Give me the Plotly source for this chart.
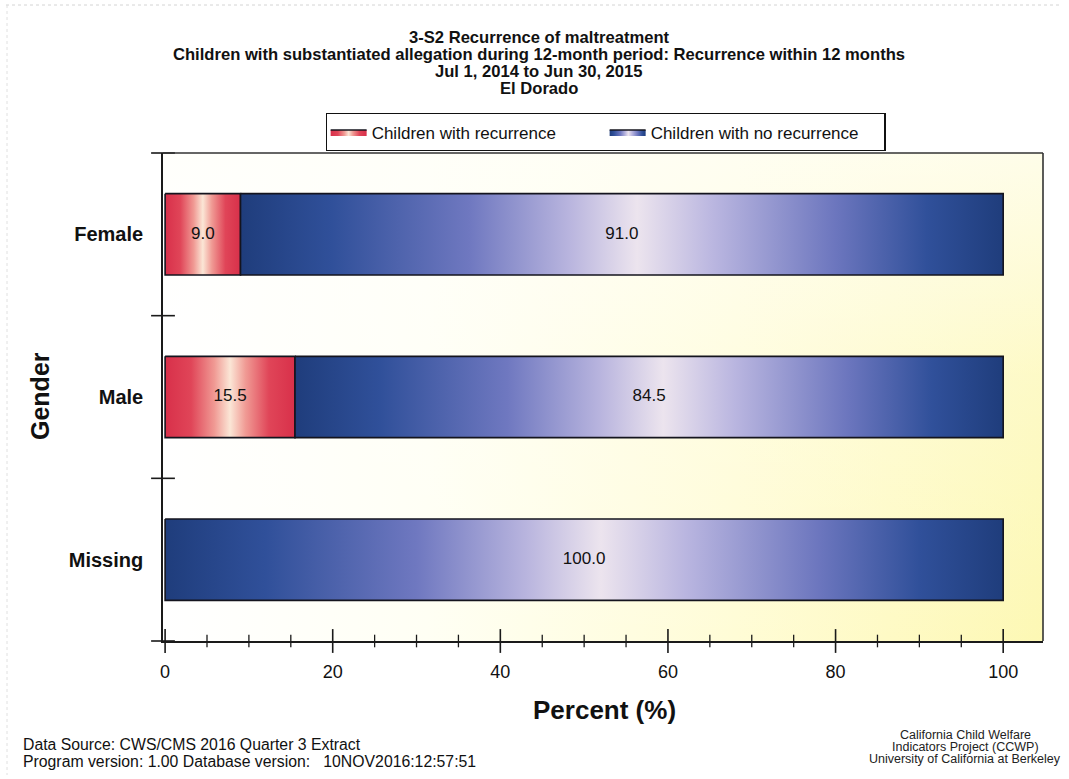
import plotly.graph_objects as go

# ---- data -------------------------------------------------------------
categories = ["Female", "Male", "Missing"]
recurrence_pct = [9.0, 15.5, 0.0]
no_recurrence_pct = [91.0, 84.5, 100.0]
series_names = ["Children with recurrence", "Children with no recurrence"]
x_tick_vals = [0, 20, 40, 60, 80, 100]
x_minor_vals = [5, 10, 15, 25, 30, 35, 45, 50, 55, 65, 70, 75, 85, 90, 95]
title_lines = [
    "3-S2 Recurrence of maltreatment",
    "Children with substantiated allegation during 12-month period: Recurrence within 12 months",
    "Jul 1, 2014 to Jun 30, 2015",
    "El Dorado",
]
footer_left = [
    "Data Source: CWS/CMS 2016 Quarter 3 Extract",
    "Program version: 1.00 Database version:   10NOV2016:12:57:51",
]
footer_right = [
    "California Child Welfare",
    "Indicators Project (CCWP)",
    "University of California at Berkeley",
]

# ---- geometry helpers ---------------------------------------------------
W, H = 1069, 779
M = dict(l=163, r=26, t=153, b=138)
PW = W - M["l"] - M["r"]
PH = H - M["t"] - M["b"]


def px_x(px):
    return (px - M["l"]) / PW


def px_y(py):
    return (H - M["b"] - py) / PH


X_RANGE = [-0.25, 104.75]
Y_RANGE = [len(categories) - 0.5, -0.5]   # first category drawn on top
BAR_HALF = 0.25
BOUNDARIES = [k - 0.5 for k in range(len(categories) + 1)]

FONT = "Liberation Sans, Arial, sans-serif"
INK = "#111111"
AXIS_INK = "#1a1a1a"

RED_SCALE = [
    [0.0, "#d8304a"], [0.2, "#e04558"], [0.38, "#f09a94"],
    [0.5, "#fbe6d6"], [0.62, "#f09a94"], [0.8, "#e04558"], [1.0, "#d8304a"],
]
BLUE_SCALE = [
    [0.0, "#1f3d7c"], [0.12, "#30509a"], [0.3, "#6f78c0"],
    [0.43, "#b8b4de"], [0.52, "#ece4ee"], [0.62, "#bab6e0"],
    [0.78, "#6c76be"], [0.9, "#30509a"], [1.0, "#1f3d7c"],
]
BG_SCALE = [[0.0, "#ffffff"], [0.3, "#fffff4"], [0.65, "#fffcd6"], [1.0, "#fdf8b4"]]
BG_FADE = [[0.0, "rgba(255,255,255,0)"], [0.55, "rgba(255,255,255,0.25)"],
           [1.0, "rgba(255,255,250,0.75)"]]


def bar_polygon(i, x0, x1):
    y0, y1 = i - BAR_HALF, i + BAR_HALF
    return [x0, x1, x1, x0, x0], [y0, y0, y1, y1, y0]


fig = go.Figure()

# plot-area background wash: warm towards the right, lighter towards the top
frame_x = [X_RANGE[0], X_RANGE[1], X_RANGE[1], X_RANGE[0], X_RANGE[0]]
frame_y = [Y_RANGE[1], Y_RANGE[1], Y_RANGE[0], Y_RANGE[0], Y_RANGE[1]]
for grad in (dict(type="horizontal", colorscale=BG_SCALE),
             dict(type="vertical", colorscale=BG_FADE)):
    fig.add_trace(go.Scatter(
        x=frame_x, y=frame_y, mode="lines", line=dict(width=0), fill="toself",
        fillgradient=grad, hoverinfo="skip", showlegend=False,
    ))

# stacked bar segments with shaded fills
label_x, label_y, label_txt = [], [], []
shown = {0: False, 1: False}
for i, cat in enumerate(categories):
    start = 0.0
    for s, (vals, scale) in enumerate([(recurrence_pct, RED_SCALE),
                                       (no_recurrence_pct, BLUE_SCALE)]):
        v = vals[i]
        if v <= 0:
            continue
        xs, ys = bar_polygon(i, start, start + v)
        fig.add_trace(go.Scatter(
            x=xs, y=ys, mode="lines", fill="toself",
            line=dict(color="#14141e", width=1.6),
            fillgradient=dict(type="horizontal", colorscale=scale),
            name=series_names[s], legendgroup=series_names[s],
            showlegend=not shown[s], hoverinfo="skip",
        ))
        shown[s] = True
        label_x.append(start + v / 2)
        label_y.append(i)
        label_txt.append(f"{v:.1f}")
        start += v

fig.add_trace(go.Scatter(
    x=label_x, y=label_y, text=label_txt, mode="text",
    textposition="middle center",
    textfont=dict(family=FONT, size=17, color=INK),
    hoverinfo="skip", showlegend=False,
))

# tick marks that straddle the axis lines
tick_common = dict(mode="markers", hoverinfo="skip", showlegend=False, cliponaxis=False)
fig.add_trace(go.Scatter(
    x=x_tick_vals, y=[Y_RANGE[0]] * len(x_tick_vals),
    marker=dict(symbol="line-ns", size=17, line=dict(width=1.6, color=AXIS_INK)),
    **tick_common))
fig.add_trace(go.Scatter(
    x=x_minor_vals, y=[Y_RANGE[0]] * len(x_minor_vals),
    marker=dict(symbol="line-ns", size=9, line=dict(width=1.3, color=AXIS_INK)),
    **tick_common))
fig.add_trace(go.Scatter(
    x=[X_RANGE[0]] * len(BOUNDARIES), y=BOUNDARIES,
    marker=dict(symbol="line-ew", size=17, line=dict(width=1.6, color=AXIS_INK)),
    **tick_common))

# ---- axes -----------------------------------------------------------------
fig.update_layout(
    xaxis=dict(range=X_RANGE, tickvals=x_tick_vals, ticks="", ticklabelstandoff=14,
               showline=True, linecolor=AXIS_INK, linewidth=1.6,
               showgrid=False, zeroline=False,
               tickfont=dict(family=FONT, size=18, color=INK)),
    yaxis=dict(range=Y_RANGE, tickvals=list(range(len(categories))),
               ticktext=categories, ticks="", ticklabelstandoff=14,
               showline=True, linecolor=AXIS_INK, linewidth=1.6,
               showgrid=False, zeroline=False,
               tickfont=dict(family=FONT, size=20, color=INK, weight="bold")),
)

# frame on top and right of the plot area
fig.add_shape(type="line", xref="paper", yref="paper", x0=0, x1=1, y0=1, y1=1,
              line=dict(color="#333333", width=1.6))
fig.add_shape(type="line", xref="paper", yref="paper", x0=1, x1=1, y0=0, y1=1,
              line=dict(color="#333333", width=1.6))
# faint page border
fig.add_shape(type="line", xref="paper", yref="paper",
              x0=px_x(6), x1=px_x(1062), y0=px_y(5), y1=px_y(5),
              line=dict(color="#d4d4d4", width=1, dash="dot"))
fig.add_shape(type="line", xref="paper", yref="paper",
              x0=px_x(7), x1=px_x(7), y0=px_y(5), y1=px_y(775),
              line=dict(color="#e0e0e0", width=1, dash="dot"))

# ---- titles and notes -----------------------------------------------------
annotations = []
for line, py in zip(title_lines, [37, 54, 71, 88]):
    annotations.append(dict(
        text=line, x=px_x(539), y=px_y(py), xref="paper", yref="paper",
        xanchor="center", yanchor="middle", showarrow=False,
        font=dict(family=FONT, size=16.6, color=INK, weight="bold"),
    ))
annotations.append(dict(
    text="Gender", x=px_x(40), y=px_y(396), xref="paper", yref="paper",
    xanchor="center", yanchor="middle", textangle=-90, showarrow=False,
    font=dict(family=FONT, size=25, color=INK, weight="bold"),
))
annotations.append(dict(
    text="Percent (%)", x=px_x(604), y=px_y(710), xref="paper", yref="paper",
    xanchor="center", yanchor="middle", showarrow=False,
    font=dict(family=FONT, size=26, color=INK, weight="bold"),
))
for line, py in zip(footer_left, [744, 761]):
    annotations.append(dict(
        text=line, x=px_x(21), y=px_y(py), xref="paper", yref="paper",
        xanchor="left", yanchor="middle", showarrow=False,
        font=dict(family=FONT, size=15.8, color=INK),
    ))
for line, py in zip(footer_right, [735, 747, 759]):
    annotations.append(dict(
        text=line, x=px_x(965), y=px_y(py), xref="paper", yref="paper",
        xanchor="center", yanchor="middle", showarrow=False,
        font=dict(family=FONT, size=12.5, color="#222222"),
    ))

fig.update_layout(
    width=W, height=H, margin=M,
    paper_bgcolor="#ffffff", plot_bgcolor="#ffffff",
    annotations=annotations,
    showlegend=True,
    legend=dict(
        orientation="h", x=0.503, xanchor="center", y=1.004, yanchor="bottom",
        bordercolor=INK, borderwidth=1.4, bgcolor="#ffffff",
        font=dict(family=FONT, size=17, color=INK),
        itemwidth=36, entrywidth=228, tracegroupgap=0,
    ),
)

fig.write_html("out.html")
